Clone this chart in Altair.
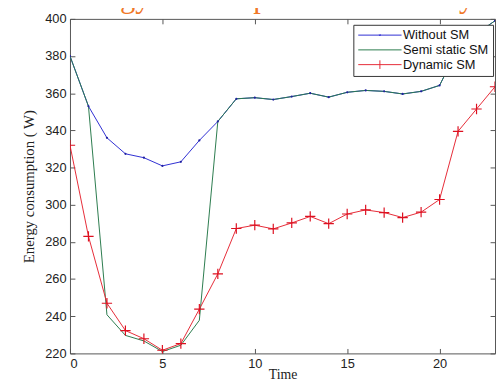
import altair as alt
import pandas as pd

time = list(range(24))
without_sm = [380, 353, 336, 327.4, 325.3, 320.9, 323.1, 334.6, 344.8, 357, 357.6, 356.6,
              358.2, 360, 357.9, 360.5, 361.5, 361, 359.6, 361, 364.2, 384, 392, 399]
semi_static_sm = [380, 353, 240.8, 229.7, 226.7, 221, 224.4, 237.8, 344.8, 357, 357.6, 356.6,
                  358.2, 360, 357.9, 360.5, 361.5, 361, 359.6, 361, 364.2, 384, 392, 399]
dynamic_sm = [332, 283, 247, 232.3, 227.9, 221.7, 225.3, 243.8, 262.8, 287.2, 289, 287,
              290.2, 293.7, 289.8, 295, 297.2, 295.8, 293.1, 296, 302.8, 339.5, 351.5, 363.5]
series_names = ["Without SM", "Semi static SM", "Dynamic SM"]
series_colors = ["#2d2dd2", "#2a7a4c", "#e62a36"]
x_ticks = [0, 5, 10, 15, 20]
y_ticks = [220, 240, 260, 280, 300, 320, 340, 360, 380, 400]
cropped_title = "Energy consumption over the day"

rows = []
for name, vals in zip(series_names, [without_sm, semi_static_sm, dynamic_sm]):
    for t, v in zip(time, vals):
        rows.append({"time": t, "value": v, "series": name})
df = pd.DataFrame(rows)

xs = alt.Scale(domain=[0, 23], nice=False, zero=False)
ys = alt.Scale(domain=[220, 400], nice=False, zero=False)

tick_color = "#555555"
label_font = "Liberation Sans"
title_font = "Liberation Serif"

x_bottom = alt.Axis(values=x_ticks, orient="bottom", offset=-5, tickSize=5, domain=False,
                    grid=False, labelPadding=4, labelFont=label_font, labelFontSize=13,
                    labelColor="#222222", tickColor=tick_color, title="Time",
                    titleFont=title_font, titleFontSize=14, titleFontWeight="normal",
                    titleColor="#222222", titlePadding=-2)
y_left = alt.Axis(values=y_ticks, orient="left", offset=-5, tickSize=5, domain=False,
                  grid=False, labelPadding=4, labelFont=label_font, labelFontSize=13,
                  labelColor="#222222", tickColor=tick_color, title="Energy consumption ( W)",
                  titleFont=title_font, titleFontSize=15, titleFontWeight="normal",
                  titleColor="#222222", titlePadding=8)
x_top = alt.Axis(values=x_ticks, orient="top", offset=-5, tickSize=5, domain=False,
                 grid=False, labels=False, tickColor=tick_color, title=None)
y_right = alt.Axis(values=y_ticks, orient="right", offset=-5, tickSize=5, domain=False,
                   grid=False, labels=False, tickColor=tick_color, title=None)

base = alt.Chart(df)

def line_layer(name, color, with_axes):
    enc_x = alt.X("time:Q", scale=xs, axis=x_bottom if with_axes else x_top)
    enc_y = alt.Y("value:Q", scale=ys, axis=y_left if with_axes else y_right)
    return base.transform_filter(alt.datum.series == name).mark_line(
        color=color, strokeWidth=1, clip=True).encode(x=enc_x, y=enc_y)

blue_line = line_layer("Without SM", series_colors[0], True)
green_line = line_layer("Semi static SM", series_colors[1], False)
red_line = base.transform_filter(alt.datum.series == "Dynamic SM").mark_line(
    color=series_colors[2], strokeWidth=1, clip=True).encode(
    x=alt.X("time:Q", scale=xs, axis=None), y=alt.Y("value:Q", scale=ys, axis=None))

blue_pts = base.transform_filter(
    (alt.datum.series == "Without SM") & ((alt.datum.time < 2) | (alt.datum.time > 7))
).mark_point(filled=True, size=5, color="#2020a0", opacity=1, clip=True).encode(
    x=alt.X("time:Q", scale=xs, axis=None), y=alt.Y("value:Q", scale=ys, axis=None))
blue_pts_mid = base.transform_filter(
    (alt.datum.series == "Without SM") & (alt.datum.time >= 2) & (alt.datum.time <= 7)
).mark_point(filled=True, size=5, color="#2020a0", opacity=1, clip=True).encode(
    x=alt.X("time:Q", scale=xs, axis=None), y=alt.Y("value:Q", scale=ys, axis=None))
red_pts = base.transform_filter(alt.datum.series == "Dynamic SM").mark_point(
    shape="M-1,0L1,0M0,-1L0,1", size=110, filled=False, color="#dd1020",
    strokeWidth=1.2, opacity=1, clip=True).encode(
    x=alt.X("time:Q", scale=xs, axis=None), y=alt.Y("value:Q", scale=ys, axis=None))

legend_df = pd.DataFrame({"series": series_names})
legend_shapes = ["M-4,0L4,0M-0.12,-0.12L0.12,0.12M-0.12,0.12L0.12,-0.12",
                 "M-4,0L4,0",
                 "M-4,0L4,0M0,-0.8L0,0.8"]
leg = alt.Legend(title=None, orient="none", legendX=288, legendY=6, padding=4,
                 strokeColor="#333333", fillColor="white", symbolSize=121,
                 symbolOffset=16.5, labelOffset=17, rowPadding=1,
                 symbolStrokeWidth=1, symbolOpacity=1, symbolFillColor="transparent",
                 labelFont=label_font, labelFontSize=13, labelColor="#111111",
                 cornerRadius=0)
legend_layer = alt.Chart(legend_df).mark_point(filled=False, opacity=0).encode(
    x=alt.value(0), y=alt.value(0),
    color=alt.Color("series:N", scale=alt.Scale(domain=series_names, range=series_colors),
                    legend=leg, sort=series_names),
    shape=alt.Shape("series:N", scale=alt.Scale(domain=series_names, range=legend_shapes),
                    legend=leg, sort=series_names),
)

title_layer = alt.Chart(pd.DataFrame({"t": [cropped_title]})).mark_text(
    font=title_font, fontSize=31, color="#f07828", align="left", baseline="alphabetic"
).encode(text="t:N", x=alt.value(-7), y=alt.value(-12))

chart = alt.layer(blue_line, blue_pts_mid, green_line, blue_pts, red_line, red_pts,
                  legend_layer, title_layer).resolve_axis(
    x="independent", y="independent"
).properties(
    width=432, height=340, background="white",
    padding={"left": 63, "top": 8, "right": 1, "bottom": 26},
    autosize=alt.AutoSizeParams(type="none"),
).configure_view(stroke="#555555", strokeWidth=1)

chart.save("out.html", embed_options={"renderer": "svg", "actions": False})
